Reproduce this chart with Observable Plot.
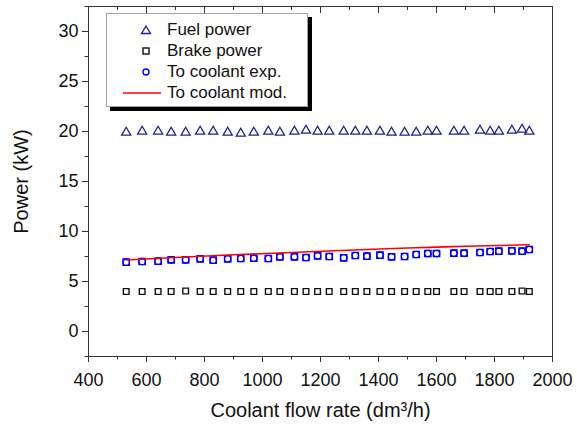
<!DOCTYPE html>
<html>
<head>
<meta charset="utf-8">
<script src="https://cdn.jsdelivr.net/npm/d3@7"></script>
<script src="https://cdn.jsdelivr.net/npm/@observablehq/plot@0.6"></script>
<style>
  body { margin: 0; background: #fff; }
  #wrap { position: relative; width: 577px; height: 435px; font-family: "Liberation Sans", Arial, sans-serif; }
  #wrap svg g[aria-label="x-axis label"] text,
  #wrap svg g[aria-label="y-axis label"] text { font-size: 20px; }
  #legend { position: absolute; left: 106px; top: 13px; width: 202px; height: 94px; box-sizing: border-box;
    border: 1px solid #a0a0a0; background: #fff; box-shadow: 4px 4px 0 #000; }
  .row { position: absolute; left: 0; height: 20px; width: 200px; }
  .row svg { position: absolute; left: 14px; top: 0; }
  .row span { position: absolute; left: 60px; top: 0; line-height: 20px; font-size: 17px; color: #111; white-space: nowrap; }
</style>
</head>
<body>
<div id="wrap"></div>
<script>
// ---- data ----
const flowRate = [530, 585, 640, 685, 735, 785, 830, 880, 925, 970, 1020, 1060, 1110, 1150, 1190, 1230, 1280,
  1320, 1360, 1405, 1445, 1490, 1530, 1570, 1600, 1660, 1695, 1750, 1785, 1815, 1860, 1895, 1920];
const fuelPower = [19.9, 20.0, 20.0, 19.9, 19.9, 20.0, 20.0, 19.9, 19.8, 19.9, 20.0, 19.9, 20.0, 20.1, 20.0, 20.0, 20.0,
  20.0, 20.0, 20.0, 19.9, 19.9, 19.9, 20.0, 20.0, 20.0, 20.0, 20.1, 20.0, 20.0, 20.1, 20.2, 20.0];
const brakePower = [4.0, 4.0, 4.0, 4.0, 4.05, 4.0, 4.0, 4.0, 4.0, 4.0, 4.0, 4.0, 4.0, 4.0, 4.0, 4.0, 4.0,
  4.0, 4.0, 4.0, 4.0, 4.0, 4.0, 4.0, 4.0, 4.0, 4.0, 4.0, 4.0, 4.0, 4.0, 4.05, 4.0];
const coolantExp = [6.93, 7.0, 7.03, 7.17, 7.17, 7.27, 7.13, 7.27, 7.3, 7.33, 7.3, 7.47, 7.47, 7.4, 7.57, 7.5, 7.37,
  7.6, 7.53, 7.63, 7.47, 7.5, 7.7, 7.8, 7.8, 7.83, 7.83, 7.9, 8.0, 8.03, 8.07, 8.03, 8.2];
const modelFlow = [530, 700, 900, 1100, 1270, 1500, 1700, 1920];
const coolantMod = [7.15, 7.4, 7.67, 7.9, 8.1, 8.35, 8.52, 8.67];

const seriesNames = ["Fuel power", "Brake power", "To coolant exp.", "To coolant mod."];
const xMajor = [400, 600, 800, 1000, 1200, 1400, 1600, 1800, 2000];
const xMinor = [500, 700, 900, 1100, 1300, 1500, 1700, 1900];
const yMajor = [0, 5, 10, 15, 20, 25, 30];
const yMinor = [-2.5, 2.5, 7.5, 12.5, 17.5, 22.5, 27.5, 32.5];

// ---- build ----
const rows = flowRate.map((f, i) => ({flow: f, fuel: fuelPower[i], brake: brakePower[i], exp: coolantExp[i]}));
const modelRows = modelFlow.map((f, i) => ({flow: f, mod: coolantMod[i]}));

const W = 577, H = 435, mL = 88, mR = 25, mT = 6, mB = 79;
const innerH = H - mT - mB;
const axisColor = "#333";
const colors = {fuel: "#22228c", brake: "#111111", exp: "#0000ff", mod: "#ff0000"};

const chart = Plot.plot({
  width: W, height: H, marginLeft: mL, marginRight: mR, marginTop: mT, marginBottom: mB,
  style: {fontFamily: "'Liberation Sans', Arial, sans-serif", fontSize: "18px", color: "#111", background: "#fff"},
  x: {domain: [400, 2000]},
  y: {domain: [-2.5, 32.5]},
  marks: [
    Plot.frame({stroke: axisColor}),
    Plot.axisX({ticks: xMajor, tickSize: 6, tickPadding: 11, stroke: axisColor, tickFormat: d => String(d),
      label: "Coolant flow rate (dm³/h)", labelAnchor: "center", labelArrow: "none", labelOffset: 60}),
    Plot.axisX({ticks: xMinor, tickSize: 3.5, stroke: axisColor, tickFormat: () => "", label: null}),
    Plot.tickX(xMajor, {x: d => d, insetBottom: innerH - 7, stroke: axisColor}),
    Plot.tickX(xMinor, {x: d => d, insetBottom: innerH - 4, stroke: axisColor}),
    Plot.axisY({ticks: yMajor, tickSize: 6, tickPadding: 4, stroke: axisColor, tickFormat: d => String(d),
      label: "Power (kW)", labelAnchor: "center", labelArrow: "none", labelOffset: 75}),
    Plot.axisY({ticks: yMinor, tickSize: 3.5, stroke: axisColor, tickFormat: () => "", label: null}),
    Plot.dot(rows, {x: "flow", y: "fuel", symbol: "triangle", r: 3.4, stroke: colors.fuel, strokeWidth: 1.3}),
    Plot.dot(rows, {x: "flow", y: "brake", symbol: "square", r: 3.2, stroke: colors.brake, strokeWidth: 1.4}),
    Plot.dot(rows, {x: "flow", y: "exp", symbol: "square", r: 3.6, stroke: colors.exp, strokeWidth: 1.3}),
    Plot.dot(rows, {x: "flow", y: "exp", symbol: "circle", r: 3.2, stroke: colors.exp, strokeWidth: 1.3}),
    Plot.line(modelRows, {x: "flow", y: "mod", stroke: colors.mod, strokeWidth: 1.6, curve: "natural"})
  ]
});

const wrap = document.getElementById("wrap");
wrap.appendChild(chart);

// ---- legend ----
const legend = document.createElement("div");
legend.id = "legend";
const sym = [
  `<svg width="40" height="20"><path d="M25,6 L29.5,13.5 L20.5,13.5 Z" fill="none" stroke="${colors.fuel}" stroke-width="1.4"/></svg>`,
  `<svg width="40" height="20"><rect x="22" y="7" width="6" height="6" fill="none" stroke="${colors.brake}" stroke-width="1.4"/></svg>`,
  `<svg width="40" height="20"><circle cx="25" cy="10" r="3" fill="none" stroke="${colors.exp}" stroke-width="1.4"/></svg>`,
  `<svg width="40" height="20"><line x1="2" y1="10" x2="41" y2="10" stroke="${colors.mod}" stroke-width="1.6"/></svg>`
];
seriesNames.forEach((name, i) => {
  const r = document.createElement("div");
  r.className = "row";
  r.style.top = (6 + i * 21) + "px";
  r.innerHTML = sym[i] + `<span>${name}</span>`;
  legend.appendChild(r);
});
wrap.appendChild(legend);
</script>
</body>
</html>
